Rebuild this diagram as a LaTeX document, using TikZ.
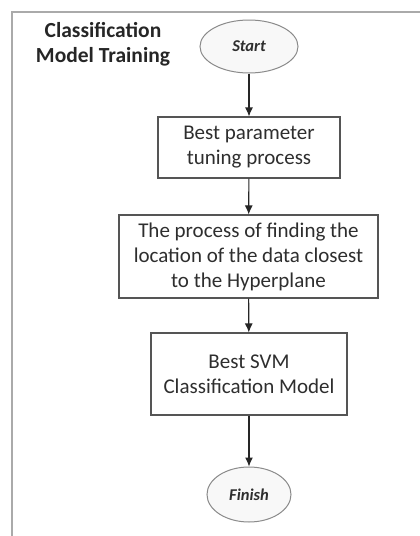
\documentclass[tikz,border=0pt]{standalone}
\usepackage{fontspec}
\setmainfont{Carlito}
\usetikzlibrary{shapes.geometric,arrows.meta}
\definecolor{txt}{HTML}{2E2E2E}
\definecolor{boxline}{HTML}{555555}
\definecolor{ellline}{HTML}{8A8A8A}
\definecolor{ellfill}{HTML}{F8F8F8}
\definecolor{frameline}{HTML}{AAAAAA}
\begin{document}
\begin{tikzpicture}[x=1pt,y=-1pt,
  procbox/.style={draw=boxline,line width=1.1pt,fill=white,rectangle,align=center,text=txt,
    font=\fontsize{21}{25}\selectfont,inner sep=0pt},
  term/.style={draw=ellline,line width=1pt,fill=ellfill,ellipse,inner sep=0pt,text=txt,
    font=\fontsize{16.5}{18}\selectfont\bfseries\itshape},
  flow/.style={draw=black!85,line width=1.1pt,-{Latex[length=9pt,width=8pt]}}]
\useasboundingbox (0,0) rectangle (420,536);
\fill[white] (0,0) rectangle (420,536);
\draw[frameline,line width=2pt] (12,536) -- (12,12) -- (420,12);
\node[align=center,text=black!85,font=\fontsize{21.5}{25}\selectfont\bfseries] (title) at (103,44)
  {Classification\\Model Training};
\node[term,minimum width=98pt,minimum height=53pt] (start) at (249,46.5) {Start};
\node[procbox,minimum width=182pt,minimum height=61pt] (b1) at (249,147.5)
  {Best parameter\\tuning process};
\node[procbox,minimum width=259pt,minimum height=83pt] (b2) at (248.5,256.5)
  {The process of finding the\\location of the data closest\\to the Hyperplane};
\node[procbox,minimum width=196pt,minimum height=82pt] (b3) at (249,374)
  {Best SVM\\Classification Model};
\node[term,minimum width=84pt,minimum height=55pt] (finish) at (249,494.5) {Finish};
\draw[flow] (start) -- (b1);
\draw[flow] (b1) -- (b2);
\draw[flow] (b2) -- (b3);
\draw[flow] (b3) -- (finish);
\end{tikzpicture}
\end{document}
